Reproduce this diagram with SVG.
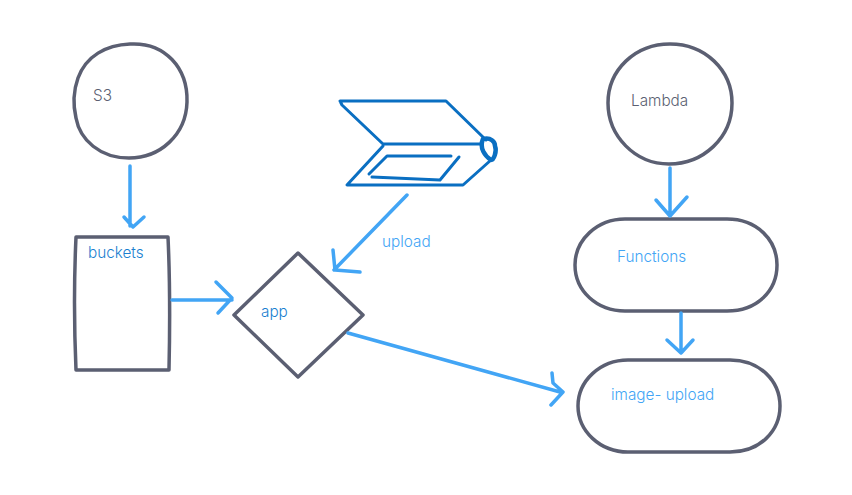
<svg xmlns="http://www.w3.org/2000/svg" width="852" height="495" viewBox="0 0 852 495">
<style>
.n{fill:none;stroke:#5b5f72;stroke-width:3.5;stroke-linecap:round;stroke-linejoin:round}
.c{fill:none;stroke:#42a5f5;stroke-width:3.5;stroke-linecap:round;stroke-linejoin:round}
.d{fill:none;stroke:#0a6fc2;stroke-width:3;stroke-linecap:round;stroke-linejoin:round}
text{font-family:Inter,"Liberation Sans",sans-serif;font-size:15.3px;font-weight:300}
.g{fill:#5b5f72}.b{fill:#42a5f5}.k{fill:#1a7fd0}
</style>
<rect width="852" height="495" fill="#fff"/>
<g id="s3"><path class="n" d="M130 44C165 42 188 68 187 102C186 135 160 158 129 158C100 158 80 140 76 118C73 105 73 92 78 78C86 56 106 45 130 44Z"/><text class="g" x="93" y="101">S3</text></g>
<g id="lambda"><path class="n" d="M670 44C705 44 732 70 732 103C732 138 703 164 669 164C635 164 608 136 608 103C608 70 635 44 670 44Z"/><text class="g" x="631" y="106">Lambda</text></g>
<g id="buckets"><path class="n" d="M76 237L168 237C170 280 170 325 169 370L76 370C74 325 74 280 76 237Z"/><text class="k" x="88" y="258">buckets</text></g>
<g id="app"><path class="n" d="M298 253L363 315L298 377L234 315Z"/><text class="k" x="261" y="317">app</text></g>
<g id="functions"><path class="n" d="M625 219L727 219C757 219 777 240 777 265C777 291 757 311 727 311L625 311C597 311 575 291 575 265C575 240 597 219 625 219Z"/><text class="b" x="617" y="262">Functions</text></g>
<g id="image-upload"><path class="n" d="M628 360L730 360C760 360 780 381 780 406C780 431 760 452 730 452L628 452C600 452 578 431 578 406C578 381 600 360 628 360Z"/><text class="b" x="611" y="400">image- upload</text></g>
<g id="laptop">
<path class="d" d="M340 101L446 101L486 140M340 101L342 105L383 144L482 144M383 146L347 185L463 185L491 160"/>
<path class="d" d="M387 156L451 156M387 156L369 174M372 177L440 180L459 157"/>
<path d="M483 139C491 137 495 142 495 146C497 151 494 160 491 160C485 156 479 148 483 139Z" fill="none" stroke="#0a6fc2" stroke-width="4.5" stroke-linejoin="round"/>
</g>
<g id="connectors">
<path class="c" d="M130 166L130 226M124 217L133 227L144 217"/>
<path class="c" d="M172 300L232 300M216 282L232 298L218 313"/>
<path class="c" d="M407 195L334 270M333 250L335 270L360 272"/>
<path class="c" d="M348 333L560 392M552 373L553 383L563 392L551 405"/>
<path class="c" d="M670 168L670 216M656 200L670 216L687 197"/>
<path class="c" d="M681 313L681 353M667 340L681 353L693 340"/>
</g>
<text class="b" x="382" y="247">upload</text>
</svg>
